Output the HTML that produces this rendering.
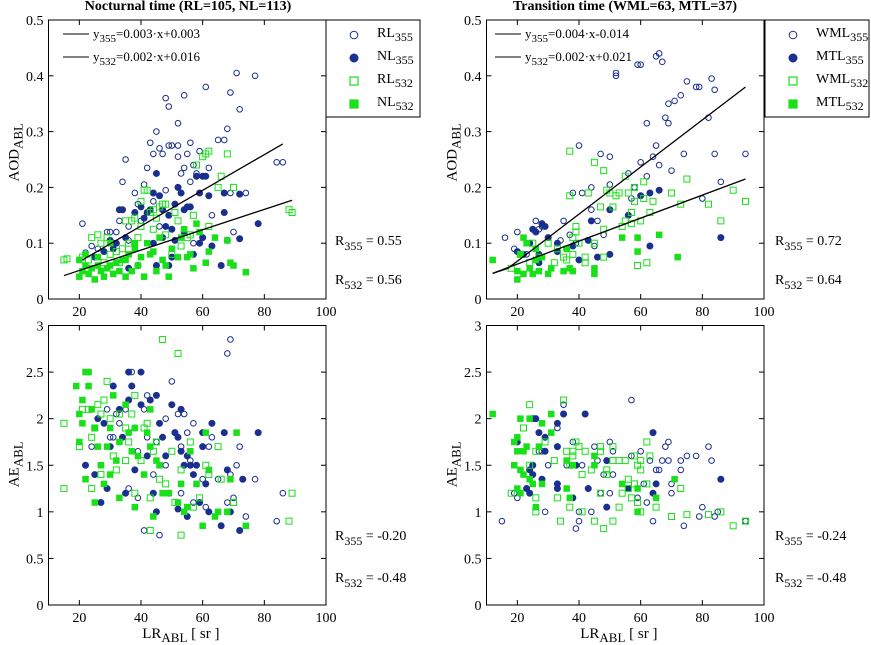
<!DOCTYPE html>
<html><head><meta charset="utf-8">
<style>
html,body{margin:0;padding:0;background:#fff;}
svg{display:block;font-family:"Liberation Serif",serif;}
</style></head>
<body>
<svg id="chart" width="871" height="645" viewBox="0 0 871 645" xmlns="http://www.w3.org/2000/svg"></svg>
<script>
// ---------- data ----------
const xTicks = [20,40,60,80,100];
const aodTicks = [0,0.1,0.2,0.3,0.4,0.5];
const aeTicks = [0,0.5,1,1.5,2,2.5,3];

const tlOpen355 = [[21,0.135],[22,0.083],[24,0.095],[29,0.12],[30,0.12],[32,0.12],[34,0.21],[35,0.25],[33,0.14],[36,0.13],[38,0.19],[39,0.17],[41,0.205],[42,0.235],[43,0.28],[44,0.26],[45,0.3],[46,0.27],[47,0.26],[48,0.36],[49,0.345],[49,0.275],[50,0.275],[52,0.315],[52,0.275],[52,0.255],[53,0.225],[54,0.365],[54,0.235],[55,0.26],[56,0.28],[56,0.21],[57,0.24],[58,0.225],[59,0.265],[61,0.38],[62,0.235],[63,0.15],[65,0.285],[67,0.285],[68,0.305],[69,0.37],[69,0.19],[70,0.12],[71,0.405],[72,0.34],[74,0.19],[77,0.4],[84,0.245],[86,0.245],[40,0.14],[44,0.175],[48,0.195],[52,0.2],[57,0.1],[36,0.105],[26,0.09],[31,0.1],[46,0.13]];
const tlFill355 = [[30,0.105],[31,0.09],[32,0.1],[33,0.16],[34,0.16],[35,0.11],[38,0.155],[40,0.165],[41,0.145],[42,0.155],[43,0.16],[44,0.19],[45,0.225],[46,0.185],[47,0.16],[48,0.13],[49,0.15],[50,0.125],[51,0.17],[52,0.2],[53,0.19],[54,0.16],[55,0.165],[56,0.165],[58,0.22],[60,0.22],[61,0.22],[62,0.185],[59,0.19],[63,0.095],[66,0.06],[67,0.155],[67,0.19],[68,0.105],[72,0.188],[72,0.108],[78,0.135],[45,0.06],[49,0.06],[50,0.075],[36,0.055],[39,0.06],[28,0.085],[25,0.075],[54,0.12],[59,0.1],[57,0.08],[60,0.11],[44,0.1],[47,0.11],[51,0.105]];
const tlOpen532 = [[15,0.07],[16,0.072],[21,0.075],[24,0.11],[26,0.115],[27,0.1],[29,0.11],[30,0.08],[32,0.085],[34,0.09],[35,0.14],[37,0.14],[38,0.145],[39,0.11],[40,0.13],[40,0.175],[41,0.195],[42,0.195],[43,0.155],[44,0.16],[44,0.125],[45,0.145],[46,0.165],[47,0.17],[48,0.17],[48,0.115],[51,0.155],[52,0.14],[53,0.095],[56,0.115],[57,0.15],[58,0.24],[60,0.255],[61,0.26],[62,0.265],[62,0.13],[65,0.2],[66,0.22],[68,0.26],[70,0.2],[88,0.16],[89,0.155],[55,0.11],[50,0.08],[33,0.065],[36,0.1],[23,0.07],[28,0.065]];
const tlFill532 = [[20,0.07],[20,0.04],[21,0.05],[22,0.06],[23,0.045],[24,0.055],[25,0.035],[26,0.06],[27,0.05],[28,0.04],[29,0.055],[30,0.06],[31,0.045],[32,0.065],[33,0.05],[34,0.07],[35,0.04],[36,0.08],[37,0.05],[38,0.09],[39,0.06],[40,0.075],[41,0.04],[42,0.1],[43,0.08],[44,0.085],[45,0.05],[46,0.11],[47,0.07],[48,0.06],[49,0.04],[50,0.09],[52,0.075],[53,0.11],[54,0.125],[55,0.075],[56,0.08],[57,0.055],[58,0.135],[59,0.12],[61,0.065],[62,0.085],[64,0.11],[68,0.105],[69,0.065],[70,0.06],[74,0.048],[30,0.1],[35,0.07],[26,0.075],[38,0.1],[22,0.08]];
const tlLine355X = [21,86], tlLine355Y = [0.07,0.278];
const tlLine532X = [15,89], tlLine532Y = [0.042,0.177];

const blOpen355 = [[29,2.1],[30,1.8],[32,2.05],[33,1.95],[35,2.1],[37,2.5],[38,1.9],[39,1.65],[41,2.1],[42,2.25],[42,1.8],[45,1.75],[48,2.0],[50,2.4],[52,2.05],[53,1.7],[54,2.05],[55,1.85],[56,1.55],[57,1.95],[58,1.5],[60,1.35],[62,1.7],[63,1.95],[63,1.8],[65,1.35],[68,2.7],[69,2.85],[69,1.4],[71,1.5],[72,1.7],[74,0.95],[77,1.35],[84,0.9],[86,1.2],[41,0.8],[46,0.75],[53,1.2],[57,1.1],[61,1.05],[68,1.1],[70,1.15],[36,1.25],[39,1.15],[48,1.5],[44,1.4],[27,1.5],[31,1.8],[24,1.7]];
const blFill355 = [[22,1.5],[25,1.4],[26,2.0],[27,1.1],[28,1.95],[29,1.25],[30,1.7],[31,2.35],[33,2.1],[34,1.8],[35,1.2],[36,2.2],[36,2.5],[37,2.35],[38,1.45],[40,2.5],[40,2.15],[42,1.6],[43,2.2],[45,2.25],[45,1.0],[46,1.95],[47,1.8],[48,1.6],[49,1.2],[50,2.15],[51,1.85],[52,1.8],[53,2.1],[53,1.65],[54,1.5],[55,1.6],[56,1.5],[57,1.4],[58,1.5],[59,1.1],[60,1.85],[60,1.7],[61,1.3],[62,1.0],[63,1.95],[66,0.85],[67,1.85],[68,1.45],[69,1.0],[72,0.8],[73,1.35],[78,1.85],[44,1.2],[52,1.03],[55,0.95]];
const blOpen532 = [[15,1.95],[15,1.25],[20,1.7],[21,2.1],[23,2.1],[24,1.8],[24,1.25],[25,1.9],[26,2.15],[27,2.05],[28,2.2],[29,2.4],[30,2.0],[31,1.6],[33,2.05],[35,1.9],[36,1.75],[37,2.05],[38,2.25],[38,1.2],[40,1.55],[41,1.9],[42,1.95],[43,0.8],[43,1.15],[44,1.65],[45,1.75],[46,1.35],[47,2.85],[48,1.3],[50,1.65],[51,1.1],[52,2.7],[53,1.45],[53,0.75],[56,1.75],[57,1.05],[59,1.15],[61,1.5],[62,1.4],[65,1.7],[66,1.35],[70,1.1],[89,1.2],[88,0.9],[32,1.45],[35,1.55],[27,1.4]];
const blFill532 = [[19,2.35],[20,2.05],[20,1.75],[21,1.95],[21,2.2],[22,2.5],[22,1.35],[23,2.5],[23,2.35],[24,2.1],[25,1.9],[25,1.1],[26,1.7],[27,1.5],[28,1.3],[29,1.7],[30,1.9],[30,1.4],[31,2.25],[32,1.55],[33,1.75],[33,1.15],[35,2.15],[36,1.85],[37,1.65],[38,1.9],[38,1.05],[39,1.6],[41,1.4],[42,1.85],[43,2.1],[43,1.7],[44,0.95],[45,1.55],[46,1.5],[47,1.2],[49,1.2],[52,1.1],[53,1.3],[54,1.0],[55,1.05],[56,1.65],[58,1.3],[60,0.85],[61,1.85],[62,1.45],[64,0.95],[65,1.0],[68,1.0],[69,1.35],[71,1.85],[74,0.85]];

const trOpen355 = [[16,0.11],[19,0.09],[20,0.12],[23,0.08],[26,0.14],[27,0.125],[28,0.13],[30,0.11],[34,0.105],[35,0.14],[37,0.115],[38,0.19],[39,0.1],[40,0.275],[41,0.19],[44,0.2],[44,0.16],[46,0.14],[47,0.26],[48,0.115],[50,0.205],[50,0.255],[52,0.4],[52,0.405],[56,0.225],[57,0.18],[58,0.2],[59,0.42],[60,0.42],[60,0.245],[62,0.22],[62,0.315],[64,0.255],[65,0.275],[65,0.435],[66,0.44],[66,0.24],[67,0.425],[68,0.325],[69,0.35],[69,0.315],[70,0.23],[71,0.355],[73,0.365],[74,0.26],[75,0.39],[78,0.38],[79,0.38],[80,0.18],[82,0.325],[83,0.395],[84,0.375],[84,0.26],[86,0.21],[94,0.26],[45,0.095]];
const trFill355 = [[20,0.085],[22,0.08],[24,0.1],[25,0.125],[26,0.12],[27,0.08],[27,0.065],[28,0.135],[29,0.13],[30,0.11],[33,0.1],[33,0.085],[36,0.09],[38,0.095],[40,0.07],[44,0.14],[46,0.075],[50,0.08],[50,0.16],[56,0.15],[60,0.185],[63,0.095],[63,0.19],[66,0.195],[86,0.11],[43,0.105]];
const trOpen532 = [[18,0.055],[21,0.08],[24,0.065],[25,0.1],[27,0.075],[30,0.1],[32,0.065],[33,0.09],[35,0.075],[36,0.07],[37,0.185],[37,0.265],[38,0.11],[38,0.08],[39,0.12],[39,0.13],[40,0.1],[42,0.075],[42,0.065],[43,0.19],[45,0.245],[45,0.1],[47,0.165],[48,0.23],[48,0.075],[49,0.195],[50,0.19],[51,0.165],[52,0.185],[53,0.19],[54,0.13],[55,0.22],[55,0.14],[56,0.19],[57,0.155],[57,0.135],[58,0.2],[58,0.175],[59,0.06],[60,0.14],[61,0.18],[61,0.21],[62,0.065],[63,0.155],[64,0.175],[70,0.19],[73,0.17],[75,0.215],[82,0.17],[86,0.14],[90,0.195],[94,0.175],[48,0.125]];
const trFill532 = [[12,0.07],[20,0.05],[20,0.035],[21,0.08],[22,0.045],[22,0.11],[23,0.1],[24,0.055],[25,0.045],[26,0.09],[27,0.05],[28,0.075],[30,0.045],[31,0.055],[35,0.05],[36,0.09],[37,0.055],[38,0.05],[45,0.045],[45,0.055],[54,0.11],[59,0.11],[59,0.085],[66,0.115],[72,0.075],[26,0.07]];
const trLine355X = [12,17,94], trLine355Y = [0.046,0.055,0.38];
const trLine532X = [12,94], trLine532Y = [0.046,0.215];

const brOpen355 = [[15,0.9],[19,1.2],[20,1.15],[29,1.0],[30,1.5],[33,1.9],[35,2.15],[36,1.5],[38,1.75],[39,0.82],[40,0.9],[40,1.0],[41,1.5],[44,1.0],[45,1.7],[46,1.55],[47,1.2],[48,1.4],[50,1.2],[50,1.75],[51,1.4],[51,1.65],[57,2.2],[57,1.6],[59,1.15],[60,1.65],[61,1.3],[62,1.1],[63,1.55],[64,0.9],[65,1.45],[66,1.45],[67,1.55],[68,1.7],[69,1.55],[69,1.75],[70,1.2],[70,1.3],[73,1.55],[73,1.45],[74,0.85],[75,1.6],[78,1.6],[79,0.95],[80,1.05],[82,1.7],[83,1.55],[84,0.95],[85,1.0],[94,0.9],[27,1.65],[28,1.65]];
const brFill355 = [[20,1.75],[23,1.25],[24,1.2],[24,1.45],[25,2.0],[25,1.4],[25,1.5],[26,2.0],[27,1.85],[28,1.35],[29,1.8],[29,1.65],[33,1.95],[33,1.3],[33,1.7],[33,1.25],[35,2.05],[38,1.15],[39,1.5],[42,2.05],[43,1.25],[49,1.55],[49,1.05],[56,1.25],[64,1.85],[64,1.2],[65,1.3],[86,1.35]];
const brOpen532 = [[18,1.2],[22,1.9],[24,2.15],[24,1.5],[26,1.15],[26,1.65],[26,1.0],[29,1.75],[32,1.55],[33,1.15],[34,0.9],[35,2.2],[36,1.65],[37,1.05],[37,1.5],[38,1.65],[38,1.6],[39,1.75],[40,1.7],[41,1.4],[41,1.0],[42,1.65],[44,1.45],[45,0.9],[47,1.7],[47,1.2],[47,1.65],[48,0.82],[49,1.45],[49,1.4],[51,1.55],[51,1.7],[51,0.9],[53,1.55],[53,1.05],[54,1.2],[55,1.55],[56,1.25],[56,1.35],[57,1.15],[58,1.3],[58,1.6],[59,1.5],[59,1.1],[60,1.45],[60,1.55],[60,1.0],[62,1.3],[62,1.75],[63,1.6],[65,1.05],[70,0.95],[73,1.25],[75,0.97],[82,0.97],[86,1.0],[90,0.85],[94,0.9]];
const brFill532 = [[12,2.05],[19,1.75],[19,1.5],[20,1.8],[20,1.65],[20,1.25],[21,1.2],[21,1.45],[21,2.0],[22,1.65],[22,1.4],[23,1.7],[24,2.0],[24,1.35],[25,1.3],[26,1.05],[27,1.7],[28,1.95],[28,1.3],[31,2.05],[31,1.85],[36,1.55],[36,1.25],[37,1.15],[38,1.5],[45,1.6],[45,1.5],[54,1.3],[59,1.25],[59,1.0],[65,1.15],[71,1.35]];

// ---------- drawing ----------
const NS = "http://www.w3.org/2000/svg";
const svg = document.getElementById('chart');
const BLUE = "#1b2f8e", GREEN = "#19e019";
function mk(tag, attrs, parent){
  const e = document.createElementNS(NS, tag);
  for (const k in attrs) e.setAttribute(k, attrs[k]);
  (parent||svg).appendChild(e);
  return e;
}
function sub(parent, main, s, x, y, size, anchor){
  const t = mk('text', {x:x, y:y, 'font-size':size, fill:'#000'}, parent);
  if (anchor) t.setAttribute('text-anchor', anchor);
  t.appendChild(document.createTextNode(main));
  const ts = mk('tspan', {dy:4, 'font-size':size-2}, t);
  ts.textContent = s;
  return t;
}

function panel(name, box, yTicks, yMax, ytitle, showX, sets, lines){
  const g = mk('g', {});
  
  
  const sx = v => box.x0 + (v - 10) / 90 * (box.x1 - box.x0);
  const sy = v => box.y1 - v / yMax * (box.y1 - box.y0);
  const fr = mk('rect', {x:box.x0, y:box.y0, width:box.x1-box.x0, height:box.y1-box.y0, fill:'none', stroke:'#000', 'stroke-width':1}, g);
  
  
  xTicks.forEach(v => {
    const x = sx(v);
    mk('line', {x1:x, x2:x, y1:box.y1, y2:box.y1-5, stroke:'#000'}, g);
    mk('line', {x1:x, x2:x, y1:box.y0, y2:box.y0+5, stroke:'#000'}, g);
    const t = mk('text', {x:x, y:box.y1+17, 'text-anchor':'middle', 'font-size':14}, g);
    
    
    t.textContent = v;
  });
  yTicks.forEach(v => {
    const y = sy(v);
    mk('line', {x1:box.x0, x2:box.x0+5, y1:y, y2:y, stroke:'#000'}, g);
    mk('line', {x1:box.x1, x2:box.x1-5, y1:y, y2:y, stroke:'#000'}, g);
    const t = mk('text', {x:box.x0-5, y:y+5, 'text-anchor':'end', 'font-size':14}, g);
    
    
    t.textContent = v;
  });
  const yt = mk('g', {transform:`translate(${box.x0-30},${(box.y0+box.y1)/2}) rotate(-90)`}, g);
  
  
  sub(yt, ytitle, 'ABL', -22, 0, 15, null);
  if (showX){
    const xt = mk('g', {}, g);
    
    
    const t = mk('text', {x:(box.x0+box.x1)/2-45, y:box.y1+33, 'font-size':15}, xt);
    t.appendChild(document.createTextNode('LR'));
    const s1 = mk('tspan', {dy:4, 'font-size':13}, t); s1.textContent = 'ABL';
    const s2 = mk('tspan', {dy:-4, 'font-size':15}, t); s2.textContent = ' [ sr ]';
  }
  sets.forEach(set => {
    const sg = mk('g', {}, g);
    
    
    set.data.forEach(p => {
      const x = sx(p[0]), y = sy(p[1]);
      let m;
      if (set.shape === 'circle'){
        m = mk('circle', {cx:x, cy:y, r: set.fill ? 3 : 2.8, fill: set.fill ? set.color : 'none', stroke:set.color, 'stroke-width':1}, sg);
      } else {
        const s = set.fill ? 5.5 : 6;
        m = mk('rect', {x:x-s/2, y:y-s/2, width:s, height:s, fill: set.fill ? set.color : 'none', stroke:set.color, 'stroke-width':1}, sg);
      }
      
      
    });
  });
  (lines||[]).forEach(l => {
    const pts = l.xs.map((xv,i) => sx(xv)+','+sy(l.ys[i])).join(' ');
    const pl = mk('polyline', {points:pts, fill:'none', stroke:'#000', 'stroke-width':1.3}, g);
    
    
  });
  return g;
}

function legend(x0, labels){
  const g = mk('g', {});
  
  
  mk('rect', {x:x0, y:20, width:x0 > 700 ? 104 : 94, height:97, fill:'#fff', stroke:'#000'}, g);
  const styles = [['circle',false,BLUE],['circle',true,BLUE],['rect',false,GREEN],['rect',true,GREEN]];
  styles.forEach((st,i) => {
    const y = 35 + i*23;
    const e = mk('g', {}, g);
    
    
    const mx = x0 + 28;
    if (st[0] === 'circle') mk('circle', {cx:mx, cy:y, r:st[1]?4:3.8, fill:st[1]?st[2]:'none', stroke:st[2], 'stroke-width':1}, e);
    else mk('rect', {x:mx-4, y:y-4, width:8, height:8, fill:st[1]?st[2]:'none', stroke:st[2], 'stroke-width':1.2}, e);
    sub(e, labels[i][0], labels[i][1], x0+51, y+2, 14, null);
  });
}

function equations(x0, eqs){
  const g = mk('g', {});
  
  
  eqs.forEach((q,i) => {
    const y = 34 + i*23;
    mk('line', {x1:x0, x2:x0+26, y1:y, y2:y, stroke:'#000', 'stroke-width':1}, g);
    const t = mk('text', {x:x0+30, y:y+4, 'font-size':13}, g);
    t.appendChild(document.createTextNode('y'));
    const s = mk('tspan', {dy:4, 'font-size':11}, t); s.textContent = q[0];
    const r = mk('tspan', {dy:-4, 'font-size':13}, t); r.textContent = q[1];
  });
}

function rtext(x, y, w, val){
  const g = mk('g', {});
  
  
  const t = mk('text', {x:x, y:y, 'font-size':14}, g);
  t.appendChild(document.createTextNode('R'));
  const s = mk('tspan', {dy:5, 'font-size':12}, t); s.textContent = w;
  const r = mk('tspan', {dy:-5, 'font-size':14}, t); r.textContent = ' = ' + val;
}

function title(x, txt){
  const t = mk('text', {x:x, y:10, 'text-anchor':'middle', 'font-size':14, 'font-weight':'bold'});
  
  
  t.textContent = txt;
}

const L = {x0:48.5, x1:326}, R = {x0:486.5, x1:764};
const topY = {y0:20, y1:299}, botY = {y0:325.5, y1:605};

panel('nocturnal-aod-panel', {...L, ...topY}, aodTicks, 0.5, 'AOD', false, [
  {name:'rl355-series', data:tlOpen355, shape:'circle', fill:false, color:BLUE},
  {name:'nl355-series', data:tlFill355, shape:'circle', fill:true, color:BLUE},
  {name:'rl532-series', data:tlOpen532, shape:'rect', fill:false, color:GREEN},
  {name:'nl532-series', data:tlFill532, shape:'rect', fill:true, color:GREEN}
], [{name:'fit-line-355', xs:tlLine355X, ys:tlLine355Y},{name:'fit-line-532', xs:tlLine532X, ys:tlLine532Y}]);

panel('nocturnal-ae-panel', {...L, ...botY}, aeTicks, 3, 'AE', true, [
  {name:'rl355-series', data:blOpen355, shape:'circle', fill:false, color:BLUE},
  {name:'nl355-series', data:blFill355, shape:'circle', fill:true, color:BLUE},
  {name:'rl532-series', data:blOpen532, shape:'rect', fill:false, color:GREEN},
  {name:'nl532-series', data:blFill532, shape:'rect', fill:true, color:GREEN}
]);

panel('transition-aod-panel', {...R, ...topY}, aodTicks, 0.5, 'AOD', false, [
  {name:'wml355-series', data:trOpen355, shape:'circle', fill:false, color:BLUE},
  {name:'mtl355-series', data:trFill355, shape:'circle', fill:true, color:BLUE},
  {name:'wml532-series', data:trOpen532, shape:'rect', fill:false, color:GREEN},
  {name:'mtl532-series', data:trFill532, shape:'rect', fill:true, color:GREEN}
], [{name:'fit-line-355', xs:trLine355X, ys:trLine355Y},{name:'fit-line-532', xs:trLine532X, ys:trLine532Y}]);

panel('transition-ae-panel', {...R, ...botY}, aeTicks, 3, 'AE', true, [
  {name:'wml355-series', data:brOpen355, shape:'circle', fill:false, color:BLUE},
  {name:'mtl355-series', data:brFill355, shape:'circle', fill:true, color:BLUE},
  {name:'wml532-series', data:brOpen532, shape:'rect', fill:false, color:GREEN},
  {name:'mtl532-series', data:brFill532, shape:'rect', fill:true, color:GREEN}
]);

legend(326, [['RL','355'],['NL','355'],['RL','532'],['NL','532']]);
legend(765, [['WML','355'],['MTL','355'],['WML','532'],['MTL','532']]);
equations(63, [['355','=0.003·x+0.003'],['532','=0.002·x+0.016']]);
equations(495, [['355','=0.004·x-0.014'],['532','=0.002·x+0.021']]);
rtext(335, 245, '355', '0.55'); rtext(335, 284, '532', '0.56');
rtext(775, 245, '355', '0.72'); rtext(775, 284, '532', '0.64');
rtext(335, 540, '355', '-0.20'); rtext(335, 582, '532', '-0.48');
rtext(775, 540, '355', '-0.24'); rtext(775, 582, '532', '-0.48');
title(188, 'Nocturnal time (RL=105, NL=113)');
title(625, 'Transition time (WML=63, MTL=37)');
</script>
</body></html>
